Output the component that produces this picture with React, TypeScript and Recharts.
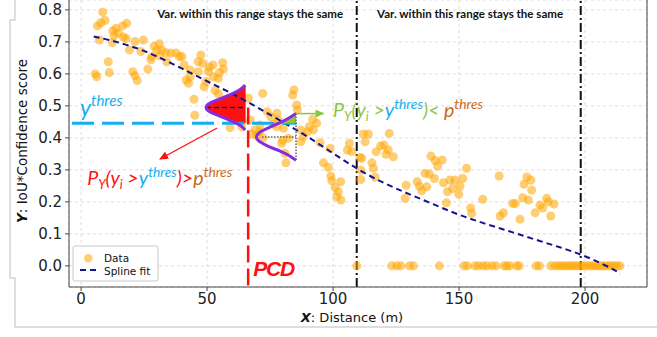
import { ScatterChart, Scatter, XAxis, YAxis, CartesianGrid, ReferenceLine } from "recharts";

// scatter cloud: [distance, score]
const cloud: [number, number][] = [
  [8.6, 0.793], [6.5, 0.75], [7.8, 0.76], [9.5, 0.767], [12.6, 0.735], [13.9, 0.743], [16.5, 0.75], [18.1, 0.758],
  [14.8, 0.727], [13.1, 0.719], [16.8, 0.715], [17.9, 0.711], [7.3, 0.706], [12.4, 0.698], [19.2, 0.675], [21.4, 0.701],
  [24.7, 0.706], [23.7, 0.67], [29.0, 0.687], [31.1, 0.694], [30.0, 0.673], [32.0, 0.675], [33.7, 0.666], [35.6, 0.665],
  [37.7, 0.665], [39.0, 0.654], [28.0, 0.654], [27.7, 0.644], [31.3, 0.656], [34.0, 0.638], [10.8, 0.638], [11.2, 0.604],
  [5.6, 0.6], [6.2, 0.591], [20.5, 0.607], [21.4, 0.594], [22.3, 0.579], [26.5, 0.615],
  [40.0, 0.654], [40.9, 0.628], [47.5, 0.659], [46.5, 0.638], [48.3, 0.633], [50.9, 0.621], [52.3, 0.628], [50.5, 0.607],
  [56.2, 0.635], [56.5, 0.615], [54.9, 0.604], [43.3, 0.612], [43.3, 0.591], [41.7, 0.581], [42.6, 0.571], [46.5, 0.607],
  [49.6, 0.576], [48.8, 0.56], [52.5, 0.591], [54.5, 0.586], [53.2, 0.548], [54.5, 0.537], [44.8, 0.521], [45.1, 0.471],
  [66.4, 0.524], [72.1, 0.539], [59.1, 0.432], [63.8, 0.435], [67.1, 0.456], [69.0, 0.425], [73.9, 0.482], [75.3, 0.466],
  [76.3, 0.443], [71.0, 0.44], [69.7, 0.406], [67.7, 0.412], [70.8, 0.419], [72.2, 0.4], [77.7, 0.477], [78.3, 0.456],
  [79.6, 0.383], [82.3, 0.399],
  [84.5, 0.55], [84.0, 0.534], [85.6, 0.503], [85.8, 0.487], [80.3, 0.43], [77.7, 0.435], [80.0, 0.393], [80.9, 0.352],
  [81.3, 0.322], [87.2, 0.425], [87.2, 0.388], [88.2, 0.404], [89.8, 0.419], [90.6, 0.435], [91.9, 0.458], [93.5, 0.446],
  [92.2, 0.425], [94.8, 0.385], [96.2, 0.322], [98.1, 0.308], [98.8, 0.367], [99.1, 0.281], [99.5, 0.266], [100.8, 0.245],
  [102.1, 0.232], [103.1, 0.206], [101.5, 0.216], [103.0, 0.263], [106.5, 0.383], [105.7, 0.362], [107.4, 0.357],
  [110.7, 0.339], [111.0, 0.299],
  [112.0, 0.412], [114.0, 0.412], [112.7, 0.388], [122.3, 0.414], [117.1, 0.357], [118.9, 0.375], [120.2, 0.378],
  [121.9, 0.362], [121.0, 0.349], [123.9, 0.341], [111.4, 0.336], [115.4, 0.322], [116.0, 0.305], [116.7, 0.277],
  [111.0, 0.27], [138.9, 0.343], [140.5, 0.329], [141.5, 0.312], [143.3, 0.331], [136.5, 0.289], [138.2, 0.287],
  [140.2, 0.273], [129.0, 0.252], [128.6, 0.211], [133.4, 0.263], [134.3, 0.249], [135.2, 0.235], [137.2, 0.247],
  [143.8, 0.26], [145.0, 0.197], [145.4, 0.232], [146.4, 0.268], [147.5, 0.242], [148.4, 0.268], [149.9, 0.224],
  [150.4, 0.249], [151.5, 0.273], [153.0, 0.305], [154.6, 0.181], [155.0, 0.164], [159.4, 0.208],
  [165.9, 0.281], [176.9, 0.278], [178.5, 0.268], [175.8, 0.255], [178.8, 0.237], [175.3, 0.213], [177.5, 0.206],
  [171.3, 0.195], [172.3, 0.195], [167.6, 0.166], [166.3, 0.156], [174.2, 0.146], [180.2, 0.166], [182.1, 0.19],
  [183.2, 0.181], [184.8, 0.211], [185.4, 0.2], [187.7, 0.193], [186.4, 0.156],
];

// points sitting on score 0
const zeroRowX = [
  109.4, 123.3, 125.3, 126.9, 130.3, 131.9, 142.2, 152, 153.3, 156.3, 157.7, 159.6, 161, 163, 164.7, 167.9, 169, 170.2,
  172.9, 173.9, 180.6, 181.9, 186.4, 188.1, 189.4, 190.5, 191.6, 192.8, 194, 195, 196.2, 197.4, 198.6, 199.8, 201,
  202.2, 203.4, 204.5, 205.7, 206.9, 208, 209.2, 210.4, 211.5, 212.7, 213.9,
];

const splineX = [5, 10, 20, 30, 40, 50, 60, 70, 80, 90, 100, 110, 120, 130, 140, 150, 160, 170, 180, 190, 200, 210, 214];
const splineY = [0.717, 0.708, 0.686, 0.655, 0.617, 0.577, 0.538, 0.495, 0.45, 0.403, 0.352, 0.302, 0.26, 0.225, 0.192,
  0.16, 0.133, 0.108, 0.083, 0.058, 0.03, -0.006, -0.024];

const yThres = 0.4456;
const pcdX = 66.3;
const rangeEdges = [109.4, 198.3];

// big sideways density around the spline value (red)
const bigCurveX = [65.1, 63.3, 60.5, 57.0, 53.6, 51.0, 49.8, 49.6, 49.8, 51.0, 53.6, 57.0, 60.5, 63.3, 65.1];
const bigCurveY = [0.565, 0.552, 0.54, 0.528, 0.517, 0.508, 0.5, 0.495, 0.49, 0.482, 0.473, 0.462, 0.45, 0.438, 0.425];
const redFillX = [65.3, 65.1, 63.3, 60.5, 57.0, 53.6, 51.0, 49.8, 49.6, 49.8, 51.0, 53.6, 57.0, 59.6, 65.3];
const redFillY = [0.565, 0.565, 0.552, 0.54, 0.528, 0.517, 0.508, 0.5, 0.495, 0.49, 0.482, 0.473, 0.462, 0.4456, 0.4456];

// small density (purple, green tail)
const smallCurveX = [85.3, 82.5, 79.0, 75.0, 71.8, 70.2, 69.6, 70.2, 71.8, 75.0, 79.0, 82.5, 85.3];
const smallCurveY = [0.476, 0.462, 0.448, 0.434, 0.422, 0.412, 0.403, 0.393, 0.384, 0.371, 0.359, 0.345, 0.33];
const greenFillX = [85.3, 82.5, 79.4, 85.3];
const greenFillY = [0.476, 0.462, 0.4456, 0.4456];

const toPts = (xs: number[], ys: number[]) => xs.map((x, i) => ({ x, y: ys[i] }));

const cloudData = cloud.map(([x, y]) => ({ x, y }));
const zeroData = zeroRowX.map((x) => ({ x, y: 0 }));

const RED = "#ff1010";
const CYAN = "#13aef0";
const GREEN = "#8cc640";
const BROWN = "#cc6a1c";
const PURPLE = "#8a2be2";
const NAVY = "#14148c";
const noDot = () => <g />;

const arrowLine = (color: string, id: string, w: number) => (p: any) => {
  const pts = p.points || [];
  if (pts.length < 2) return <g />;
  const a = pts[0];
  const b = pts[pts.length - 1];
  return (
    <g>
      <defs>
        <marker id={id} markerWidth="9" markerHeight="8" refX="8" refY="4" orient="auto" markerUnits="userSpaceOnUse">
          <path d="M0,0 L9,4 L0,8 Z" fill={color} />
        </marker>
      </defs>
      <path d={`M${a.x},${a.y} L${b.x},${b.y}`} stroke={color} strokeWidth={w} fill="none" markerEnd={`url(#${id})`} />
    </g>
  );
};

const annot = (key: string, x: number, y: number, render: (cx: number, cy: number) => any) => (
  <Scatter
    key={key}
    data={[{ x, y }]}
    isAnimationActive={false}
    shape={(p: any) => render(p.cx, p.cy)}
  />
);

const mathFont = "Lato, 'Open Sans', sans-serif";

export default function App() {
  return (
    <div style={{ position: "absolute", left: 0, top: 0, width: 657, height: 337, background: "#fff" }}>
      <svg width={657} height={337} style={{ position: "absolute", left: 0, top: 0 }}>
        <polyline points="15,0 15,20 10,20 10,278 15,278 15,327 657,327" fill="none" stroke="#d4d4d4" strokeWidth={1.5} />
      </svg>
      <div style={{ position: "absolute", left: 0, top: 0 }}>
        <ScatterChart width={657} height={337} margin={{ top: 0, right: 10, bottom: 0, left: 0 }}>
          <CartesianGrid strokeDasharray="3 3" stroke="#dcdcdc" />
          <XAxis
            type="number"
            dataKey="x"
            domain={[-4.8, 224.6]}
            ticks={[0, 50, 100, 150, 200]}
            height={50}
            tickSize={4}
            tickMargin={2}
            stroke="#444"
            tick={{ fill: "#222", fontSize: 15, fontFamily: "DejaVu Sans" }}
          />
          <YAxis
            type="number"
            dataKey="y"
            domain={[-0.066, 0.831]}
            ticks={[0, 0.1, 0.2, 0.3, 0.4, 0.5, 0.6, 0.7, 0.8]}
            tickFormatter={(v: number) => v.toFixed(1)}
            width={69}
            tickSize={4}
            tickMargin={3}
            stroke="#444"
            tick={{ fill: "#222", fontSize: 15, fontFamily: "DejaVu Sans" }}
          />
          <ReferenceLine x={224.6} stroke="#444" strokeWidth={1} />
          {rangeEdges.map((e) => (
            <ReferenceLine key={e} x={e} stroke="#111" strokeWidth={2} strokeDasharray="9 3 2 3" />
          ))}
          <Scatter data={cloudData} fill="#ffa500" fillOpacity={0.55} isAnimationActive={false} />
          <Scatter data={zeroData} fill="#ffa500" fillOpacity={0.55} isAnimationActive={false} />
          {/* PCD vertical */}
          <Scatter
            data={toPts([pcdX, pcdX], [0.495, -0.066])}
            isAnimationActive={false}
            shape={noDot}
            line={{ stroke: RED, strokeWidth: 2.5, strokeDasharray: "17 6" }}
          />
          {/* red tail area */}
          <Scatter
            data={toPts(redFillX, redFillY)}
            isAnimationActive={false}
            shape={noDot}
            lineJointType="linear"
            line={{ fill: RED, stroke: "none" }}
          />
          <Scatter
            data={toPts(splineX, splineY)}
            isAnimationActive={false}
            shape={noDot}
            lineJointType="natural"
            line={{ stroke: NAVY, strokeWidth: 2, strokeDasharray: "6 4" }}
          />
          {/* y threshold */}
          <Scatter
            data={toPts([-3.6, 85.5], [yThres, yThres])}
            isAnimationActive={false}
            shape={noDot}
            line={{ stroke: CYAN, strokeWidth: 3, strokeDasharray: "22 8" }}
          />
          <Scatter
            data={toPts([49.6, 65.5], [0.495, 0.495])}
            isAnimationActive={false}
            shape={noDot}
            line={{ stroke: "#201040", strokeWidth: 1.5, strokeDasharray: "5 3" }}
          />
          <Scatter
            data={toPts(bigCurveX, bigCurveY)}
            isAnimationActive={false}
            shape={noDot}
            lineJointType="natural"
            line={{ stroke: PURPLE, strokeWidth: 3 }}
          />
          <Scatter
            data={toPts(greenFillX, greenFillY)}
            isAnimationActive={false}
            shape={noDot}
            lineJointType="linear"
            line={{ fill: GREEN, stroke: "none" }}
          />
          <Scatter
            data={toPts([71.8, 85.3], [0.403, 0.403])}
            isAnimationActive={false}
            shape={noDot}
            line={{ stroke: "#666", strokeWidth: 1.5, strokeDasharray: "1.5 1.5" }}
          />
          <Scatter
            data={toPts([85.3, 85.3], [0.476, 0.33])}
            isAnimationActive={false}
            shape={noDot}
            line={{ stroke: "#666", strokeWidth: 1.5, strokeDasharray: "1.5 1.5" }}
          />
          <Scatter
            data={toPts(smallCurveX, smallCurveY)}
            isAnimationActive={false}
            shape={noDot}
            lineJointType="natural"
            line={{ stroke: PURPLE, strokeWidth: 3 }}
          />
          <Scatter
            data={toPts([85.3, 96.2], [0.476, 0.476])}
            isAnimationActive={false}
            shape={noDot}
            line={arrowLine(GREEN, "arrGreen", 1.5)}
          />
          <Scatter
            data={toPts([54, 31.3], [0.431, 0.334])}
            isAnimationActive={false}
            shape={noDot}
            line={arrowLine(RED, "arrRed", 1.3)}
          />
          {annot("var1", 67.1, 0.776, (cx, cy) => (
            <text x={cx} y={cy} textAnchor="middle" fontFamily="Lato" fontWeight="bold" fontSize={11.5} fill="#111" textLength={186} lengthAdjust="spacingAndGlyphs">
              Var. within this range stays the same
            </text>
          ))}
          {annot("var2", 154.4, 0.776, (cx, cy) => (
            <text x={cx} y={cy} textAnchor="middle" fontFamily="Lato" fontWeight="bold" fontSize={11.5} fill="#111" textLength={186} lengthAdjust="spacingAndGlyphs">
              Var. within this range stays the same
            </text>
          ))}
          {annot("ythr", -0.4, 0.468, (cx, cy) => (
            <text x={cx} y={cy} fontFamily={mathFont} fontStyle="italic" fill={CYAN}>
              <tspan fontSize={23}>y</tspan>
              <tspan fontSize={15} dy={-10}>thres</tspan>
            </text>
          ))}
          {annot("pgreen", 100.0, 0.466, (cx, cy) => (
            <text x={cx} y={cy} fontFamily={mathFont} fontStyle="italic" fontSize={20} fill={GREEN} textLength={150} lengthAdjust="spacingAndGlyphs">
              <tspan>P</tspan>
              <tspan fontSize={13} dy={4}>Y</tspan>
              <tspan dy={-4}>(y</tspan>
              <tspan fontSize={13} dy={4}>i</tspan>
              <tspan dy={-4}> &gt;</tspan>
              <tspan fill={CYAN}>y</tspan>
              <tspan fill={CYAN} fontSize={14} dy={-8}>thres</tspan>
              <tspan dy={8}>)&lt; </tspan>
              <tspan fill={BROWN}>p</tspan>
              <tspan fill={BROWN} fontSize={14} dy={-8}>thres</tspan>
            </text>
          ))}
          {annot("pred", 2.4, 0.252, (cx, cy) => (
            <text x={cx} y={cy} fontFamily={mathFont} fontStyle="italic" fontSize={20} fill={RED} textLength={145} lengthAdjust="spacingAndGlyphs">
              <tspan>P</tspan>
              <tspan fontSize={13} dy={4}>Y</tspan>
              <tspan dy={-4}>(y</tspan>
              <tspan fontSize={13} dy={4}>i</tspan>
              <tspan dy={-4}> &gt;</tspan>
              <tspan fill={CYAN}>y</tspan>
              <tspan fill={CYAN} fontSize={14} dy={-8}>thres</tspan>
              <tspan dy={8}>)&gt;</tspan>
              <tspan fill={BROWN}>p</tspan>
              <tspan fill={BROWN} fontSize={14} dy={-8}>thres</tspan>
            </text>
          ))}
          {annot("pcd", 68.3, -0.032, (cx, cy) => (
            <text x={cx} y={cy} fontFamily="Liberation Sans" fontStyle="italic" fontWeight="bold" fontSize={21} fill={RED} textLength={42}>
              PCD
            </text>
          ))}
        </ScatterChart>
      </div>
      <svg width={657} height={337} style={{ position: "absolute", left: 0, top: 0, pointerEvents: "none" }}>
        <text x={352} y={322} textAnchor="middle" fontFamily="DejaVu Sans" fontSize={13} fill="#111">
          <tspan fontWeight="bold" fontStyle="italic">X</tspan>: Distance (m)
        </text>
        <text
          x={27}
          y={141}
          textAnchor="middle"
          fontFamily="DejaVu Sans"
          fontSize={13.5}
          fill="#111"
          transform="rotate(-90 27 141)"
        >
          <tspan fontWeight="bold" fontStyle="italic">Y</tspan>: IoU*Confidence score
        </text>
        <rect x={73} y={246} width={85} height={35} rx={2} fill="#fff" fillOpacity={0.85} stroke="#c8c8c8" />
        <circle cx={88.3} cy={258.3} r={4.3} fill="#ffa500" fillOpacity={0.55} />
        <text x={104} y={261.5} fontFamily="DejaVu Sans" fontSize={10.5} fill="#111">Data</text>
        <line x1={80} y1={270} x2={97} y2={270} stroke={NAVY} strokeWidth={2} strokeDasharray="6 4" />
        <text x={104} y={274.5} fontFamily="DejaVu Sans" fontSize={10.5} fill="#111">Spline fit</text>
      </svg>
    </div>
  );
}
